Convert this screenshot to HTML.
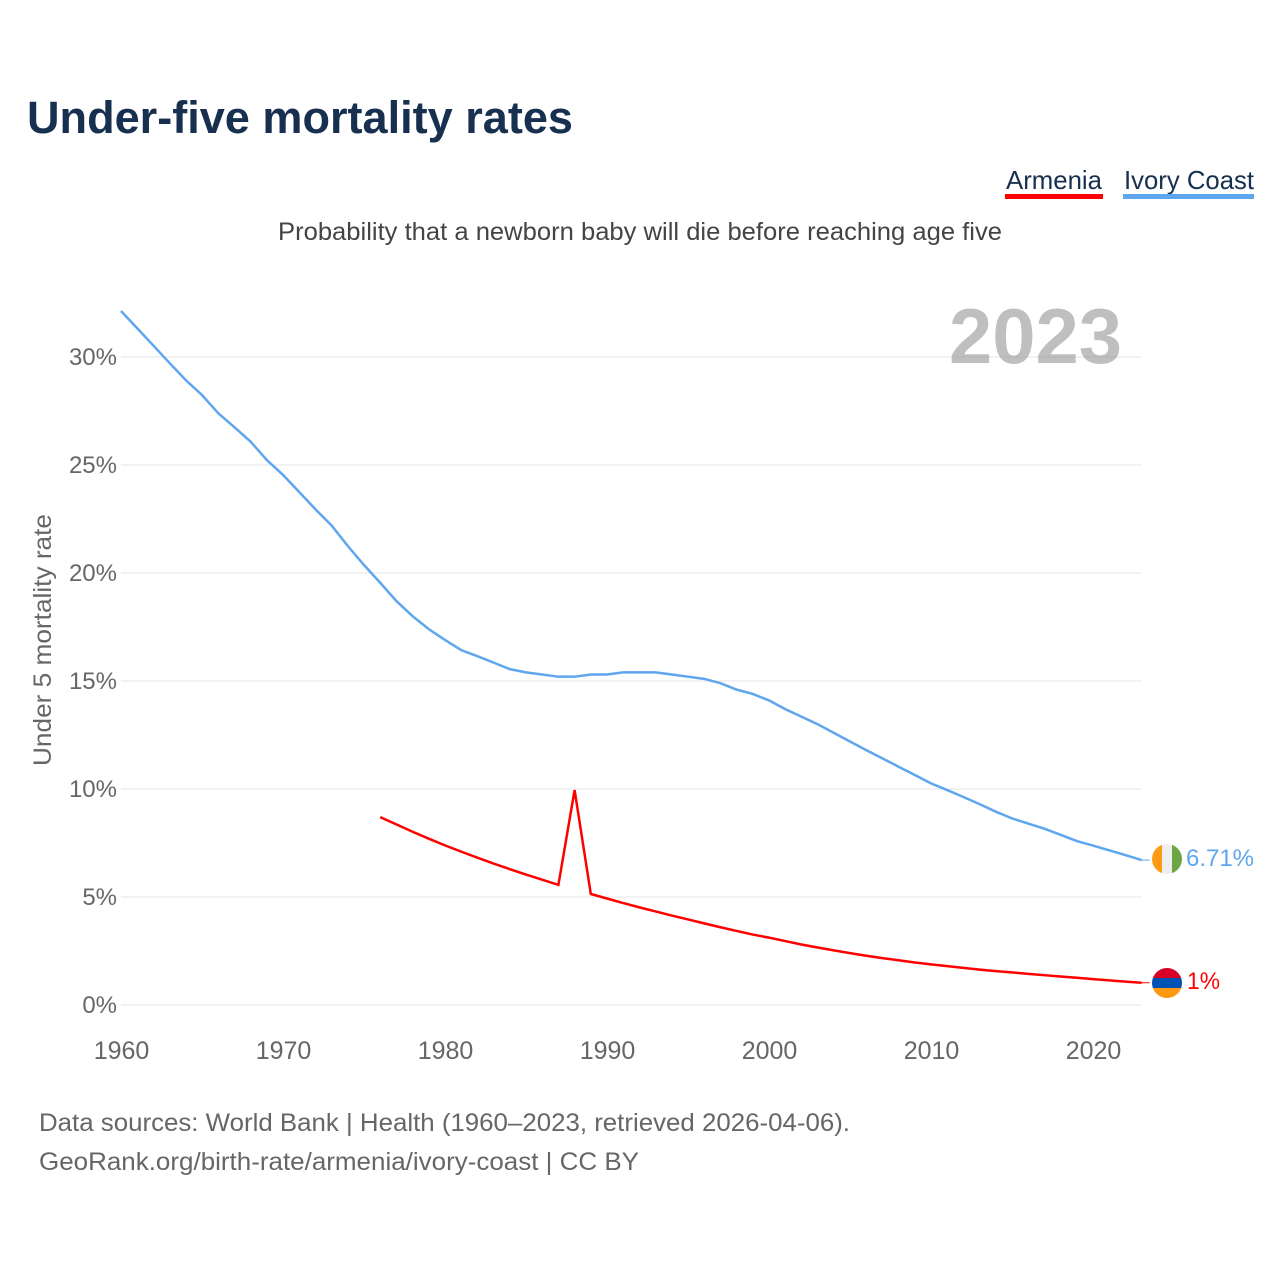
<!DOCTYPE html>
<html lang="en">
<head>
<meta charset="utf-8">
<title>Under-five mortality rates</title>
<style>
html,body{margin:0;padding:0;background:#fff;width:1280px;height:1280px;overflow:hidden}
svg{display:block}
text{font-family:"Liberation Sans",sans-serif}
</style>
</head>
<body>
<svg id="chart" xmlns="http://www.w3.org/2000/svg" width="1280" height="1280" viewBox="0 0 1280 1280">
  <rect x="0" y="0" width="1280" height="1280" fill="#ffffff"/>
  <text x="27" y="133" font-size="45" font-weight="700" fill="#17304f" textLength="546" lengthAdjust="spacingAndGlyphs">Under-five mortality rates</text>
  <g>
    <text x="1006" y="189" font-size="26" fill="#17304f" textLength="96" lengthAdjust="spacingAndGlyphs">Armenia</text>
    <rect x="1005" y="194" width="98" height="5" fill="#ff0000"/>
  </g>
  <g>
    <text x="1124" y="189" font-size="26" fill="#17304f" textLength="130" lengthAdjust="spacingAndGlyphs">Ivory Coast</text>
    <rect x="1123" y="194" width="131" height="5" fill="#5ea6ee"/>
  </g>
  <text x="278" y="240" font-size="25" fill="#444444" textLength="724" lengthAdjust="spacingAndGlyphs">Probability that a newborn baby will die before reaching age five</text>
  <g id="grid"></g>
  <g id="yticks"></g>
  <g id="xticks"></g>
  <text transform="translate(51,766) rotate(-90)" x="0" y="0" font-size="25" fill="#666666" textLength="252" lengthAdjust="spacingAndGlyphs">Under 5 mortality rate</text>
  <text x="949" y="363" font-size="78" font-weight="700" fill="#808080" fill-opacity="0.5" textLength="173" lengthAdjust="spacingAndGlyphs">2023</text>
  <g id="series"></g>
  <g id="ends">
    <defs>
      <clipPath id="clipCi"><circle cx="1167" cy="859" r="15"/></clipPath>
      <clipPath id="clipAm"><circle cx="1167" cy="983" r="15"/></clipPath>
    </defs>
    <g clip-path="url(#clipCi)">
      <rect x="1152" y="844" width="10" height="30" fill="#ff9a17"/>
      <rect x="1162" y="844" width="10" height="30" fill="#eeeeee"/>
      <rect x="1172" y="844" width="10" height="30" fill="#6da544"/>
    </g>
    <g clip-path="url(#clipAm)">
      <rect x="1152" y="968" width="30" height="10" fill="#d80027"/>
      <rect x="1152" y="978" width="30" height="10" fill="#0052b4"/>
      <rect x="1152" y="988" width="30" height="10" fill="#ff9811"/>
    </g>
    <text x="1186" y="866" font-size="24" fill="#5ea6ee" textLength="68" lengthAdjust="spacingAndGlyphs">6.71%</text>
    <text x="1187" y="989" font-size="24" fill="#ff0000" textLength="33" lengthAdjust="spacingAndGlyphs">1%</text>
  </g>
  <text x="39" y="1131" font-size="25" fill="#666666" textLength="811" lengthAdjust="spacingAndGlyphs">Data sources: World Bank | Health (1960–2023, retrieved 2026-04-06).</text>
  <text x="39" y="1170" font-size="25" fill="#666666" textLength="600" lengthAdjust="spacingAndGlyphs">GeoRank.org/birth-rate/armenia/ivory-coast | CC BY</text>
</svg>
<script>
var yTickValues = [0, 5, 10, 15, 20, 25, 30];
var yTickLabels = ["0%", "5%", "10%", "15%", "20%", "25%", "30%"];
var xTickValues = [1960, 1970, 1980, 1990, 2000, 2010, 2020];
var xTickLabels = ["1960", "1970", "1980", "1990", "2000", "2010", "2020"];
var ivoryYears = [1960,1961,1962,1963,1964,1965,1966,1967,1968,1969,1970,1971,1972,1973,1974,1975,1976,1977,1978,1979,1980,1981,1982,1983,1984,1985,1986,1987,1988,1989,1990,1991,1992,1993,1994,1995,1996,1997,1998,1999,2000,2001,2002,2003,2004,2005,2006,2007,2008,2009,2010,2011,2012,2013,2014,2015,2016,2017,2018,2019,2020,2021,2022,2023];
var ivoryValues = [32.13,31.33,30.53,29.72,28.93,28.24,27.4,26.75,26.08,25.23,24.54,23.75,22.95,22.2,21.25,20.37,19.55,18.7,18.0,17.4,16.9,16.43,16.15,15.85,15.55,15.4,15.3,15.2,15.2,15.3,15.3,15.4,15.4,15.4,15.3,15.2,15.1,14.9,14.6,14.4,14.1,13.7,13.35,13.0,12.6,12.2,11.8,11.42,11.03,10.65,10.26,9.95,9.63,9.3,8.95,8.64,8.4,8.16,7.88,7.59,7.38,7.16,6.94,6.71];
var armeniaYears = [1976,1977,1978,1979,1980,1981,1982,1983,1984,1985,1986,1987,1988,1989,1990,1991,1992,1993,1994,1995,1996,1997,1998,1999,2000,2001,2002,2003,2004,2005,2006,2007,2008,2009,2010,2011,2012,2013,2014,2015,2016,2017,2018,2019,2020,2021,2022,2023];
var armeniaValues = [8.7,8.36,8.02,7.7,7.39,7.1,6.82,6.55,6.29,6.04,5.8,5.56,9.95,5.14,4.93,4.72,4.52,4.33,4.14,3.96,3.78,3.6,3.43,3.26,3.12,2.96,2.8,2.66,2.53,2.4,2.28,2.17,2.07,1.97,1.88,1.8,1.72,1.64,1.57,1.51,1.44,1.38,1.32,1.26,1.2,1.14,1.08,1.03];

var NS = "http://www.w3.org/2000/svg";
function xScale(year) { return 121 + (year - 1960) * 16.2; }
function yScale(value) { return 1005 - value * 21.6; }
function make(tag, parentId) {
  var el = document.createElementNS(NS, tag);
  document.getElementById(parentId).appendChild(el);
  return el;
}
function pathFrom(xs, ys) {
  return xs.map(function (year, i) {
    return (i ? "L" : "M") + xScale(year).toFixed(2) + " " + yScale(ys[i]).toFixed(2);
  }).join(" ");
}

yTickValues.forEach(function (v, i) {
  var line = make("line", "grid");
  
  
  line.setAttribute("x1", xScale(1960));
  line.setAttribute("x2", xScale(2023));
  line.setAttribute("y1", yScale(v));
  line.setAttribute("y2", yScale(v));
  line.setAttribute("stroke", "#eeeeee");
  line.setAttribute("stroke-width", "1.5");

  var label = make("text", "yticks");
  
  
  label.setAttribute("x", 117);
  label.setAttribute("y", yScale(v) + 8);
  label.setAttribute("text-anchor", "end");
  label.setAttribute("font-size", "24");
  label.setAttribute("fill", "#666666");
  label.textContent = yTickLabels[i];
});

xTickValues.forEach(function (v, i) {
  var label = make("text", "xticks");
  
  
  label.setAttribute("x", xScale(v) + 0.5);
  label.setAttribute("y", 1059);
  label.setAttribute("text-anchor", "middle");
  label.setAttribute("font-size", "25");
  label.setAttribute("fill", "#666666");
  label.textContent = xTickLabels[i];
});

var ivoryLine = make("path", "series");


ivoryLine.setAttribute("d", pathFrom(ivoryYears, ivoryValues));
ivoryLine.setAttribute("fill", "none");
ivoryLine.setAttribute("stroke", "#5ea6ee");
ivoryLine.setAttribute("stroke-width", "2.5");

var armeniaLine = make("path", "series");


armeniaLine.setAttribute("d", pathFrom(armeniaYears, armeniaValues));
armeniaLine.setAttribute("fill", "none");
armeniaLine.setAttribute("stroke", "#ff0000");
armeniaLine.setAttribute("stroke-width", "2.5");

var ivoryConnector = make("line", "series");


ivoryConnector.setAttribute("x1", xScale(2023));
ivoryConnector.setAttribute("x2", xScale(2023) + 8);
ivoryConnector.setAttribute("y1", yScale(ivoryValues[ivoryValues.length - 1]));
ivoryConnector.setAttribute("y2", yScale(ivoryValues[ivoryValues.length - 1]));
ivoryConnector.setAttribute("stroke", "#5ea6ee");
ivoryConnector.setAttribute("stroke-width", "1");

var armeniaConnector = make("line", "series");


armeniaConnector.setAttribute("x1", xScale(2023));
armeniaConnector.setAttribute("x2", xScale(2023) + 8);
armeniaConnector.setAttribute("y1", yScale(armeniaValues[armeniaValues.length - 1]));
armeniaConnector.setAttribute("y2", yScale(armeniaValues[armeniaValues.length - 1]));
armeniaConnector.setAttribute("stroke", "#ff0000");
armeniaConnector.setAttribute("stroke-width", "1");
</script>
</body>
</html>
